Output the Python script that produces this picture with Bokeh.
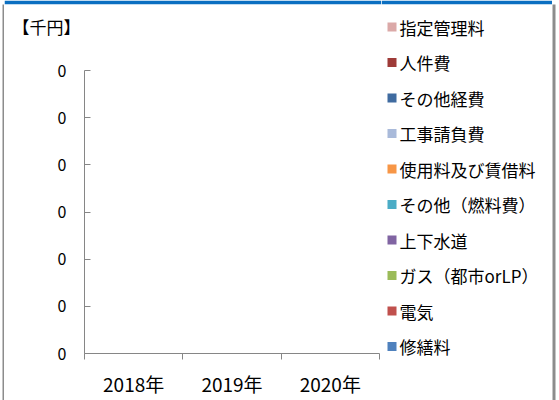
from bokeh.plotting import figure
from bokeh.models import Range1d, FixedTicker
from bokeh.layouts import row, column
from bokeh.core.properties import value
from bokeh.embed import file_html
from bokeh.resources import INLINE

years = ["2018年", "2019年", "2020年"]

# legend order (top to bottom)
series_names = ["指定管理料", "人件費", "その他経費", "工事請負費", "使用料及び賃借料",
                "その他（燃料費）", "上下水道", "ガス（都市orLP）", "電気", "修繕料"]
series_colors = ["#DBA9A8", "#9E3B38", "#3F6BA0", "#A9BADA", "#F79646",
                 "#4BACC6", "#8064A2", "#9BBB59", "#C0504D", "#4F81BD"]
# values per series (all zero in the source chart)
v_shitei = [0, 0, 0]
v_jinken = [0, 0, 0]
v_sonota_keihi = [0, 0, 0]
v_koji = [0, 0, 0]
v_shiyo = [0, 0, 0]
v_nenryo = [0, 0, 0]
v_suido = [0, 0, 0]
v_gas = [0, 0, 0]
v_denki = [0, 0, 0]
v_shuzen = [0, 0, 0]
series_values = [v_shitei, v_jinken, v_sonota_keihi, v_koji, v_shiyo,
                 v_nenryo, v_suido, v_gas, v_denki, v_shuzen]

y_ticks = [0, 1, 2, 3, 4, 5, 6]
y_tick_labels = ["0", "0", "0", "0", "0", "0", "0"]
unit_label = "【千円】"

FONT = "Noto Sans CJK JP"
AXIS_COLOR = "#868686"
FRAME_BLUE = "#0B6FC1"
FRAME_GRAY = "#8C8C8C"
BAND = 4  # height of the blue window band at the very top


def panel(width, height, **kw):
    opts = dict(width=width, height=height, output_backend="svg", toolbar_location=None,
                min_border_left=0, min_border_right=0, min_border_top=0, min_border_bottom=0)
    opts.update(kw)
    fig = figure(**opts)
    fig.outline_line_color = None
    fig.xgrid.visible = False
    fig.ygrid.visible = False
    fig.frame_align = False
    fig.background_fill_color = "white"
    fig.border_fill_color = "white"
    return fig


# ---------- window chrome (side lines) ----------
left_strip = panel(4, 400, x_axis_location=None, y_axis_location=None,
                   min_border_left=2, min_border_top=BAND)
left_strip.background_fill_color = FRAME_GRAY

right_strip = panel(7, 400, x_axis_location=None, y_axis_location=None,
                    min_border_right=4, min_border_top=BAND)
right_strip.background_fill_color = FRAME_GRAY

# ---------- unit caption above the chart (its top border is the blue band) ----------
HEAD_W, HEAD_H = 377, 50
head = panel(HEAD_W, HEAD_H + BAND, x_axis_location=None, y_axis_location=None,
             x_range=Range1d(0, HEAD_W), y_range=Range1d(HEAD_H, 0), min_border_top=BAND)
head.border_fill_color = FRAME_BLUE
head.text(x=[8], y=[22], text=[unit_label], text_font=value(FONT), text_font_size="17px",
          text_baseline="middle", text_align="left", text_color="black")

# ---------- main chart ----------
p = panel(377, 400 - HEAD_H - BAND,
          x_range=Range1d(0, len(years)), y_range=Range1d(y_ticks[0], y_ticks[-1]),
          min_border_left=80, min_border_right=2, min_border_top=16, min_border_bottom=47)

xs = [i + 0.5 for i in range(len(years))]
data = {"x": xs}
keys = []
for i, vals in enumerate(series_values):
    k = f"s{i}"
    data[k] = vals
    keys.append(k)

# stack from bottom (修繕料) to top (指定管理料)
p.vbar_stack(list(reversed(keys)), x="x", width=0.5, color=list(reversed(series_colors)),
             line_color=None, source=data)

xa = p.xaxis[0]
xa.ticker = FixedTicker(ticks=xs, minor_ticks=list(range(len(years) + 1)))
xa.major_label_overrides = {x: y for x, y in zip(xs, years)}
xa.major_tick_line_color = None
xa.minor_tick_in = 0
xa.minor_tick_out = 6
xa.minor_tick_line_color = AXIS_COLOR
xa.axis_line_color = AXIS_COLOR
xa.major_label_text_font = FONT
xa.major_label_text_font_size = "19px"
xa.major_label_text_color = "black"
xa.major_label_standoff = 10

ya = p.yaxis[0]
ya.ticker = FixedTicker(ticks=y_ticks)
ya.major_label_overrides = {t: l for t, l in zip(y_ticks, y_tick_labels)}
ya.major_tick_in = 6
ya.major_tick_out = 0
ya.minor_tick_line_color = None
ya.major_tick_line_color = AXIS_COLOR
ya.axis_line_color = AXIS_COLOR
ya.major_label_text_font = FONT
ya.major_label_text_font_size = "16px"
ya.major_label_text_color = "black"
ya.major_label_standoff = 18

# ---------- legend panel (its top border is the blue band) ----------
n = len(series_names)
LEG_W, LEG_H = 171, 396
first_px, pitch_px = 22.5, 35.5          # centre of first row, row pitch (pixels)
span = LEG_H / pitch_px
y_top = -first_px / pitch_px
leg = panel(LEG_W, LEG_H + BAND, x_axis_location=None, y_axis_location=None,
            x_range=Range1d(0, LEG_W), y_range=Range1d(y_top + span, y_top),
            min_border_top=BAND)
leg.border_fill_color = FRAME_BLUE
idx = list(range(n))
leg.scatter(x=[10.5] * n, y=idx, marker="square", size=9, fill_color=series_colors,
            line_color=None)
leg.text(x=[18] * n, y=idx, text=series_names, text_font=value(FONT), text_font_size="17px",
         text_baseline="middle", text_align="left", text_color="black")

layout = row(left_strip, column(head, p), leg, right_strip)

open("out.html", "w").write(file_html(layout, INLINE))
